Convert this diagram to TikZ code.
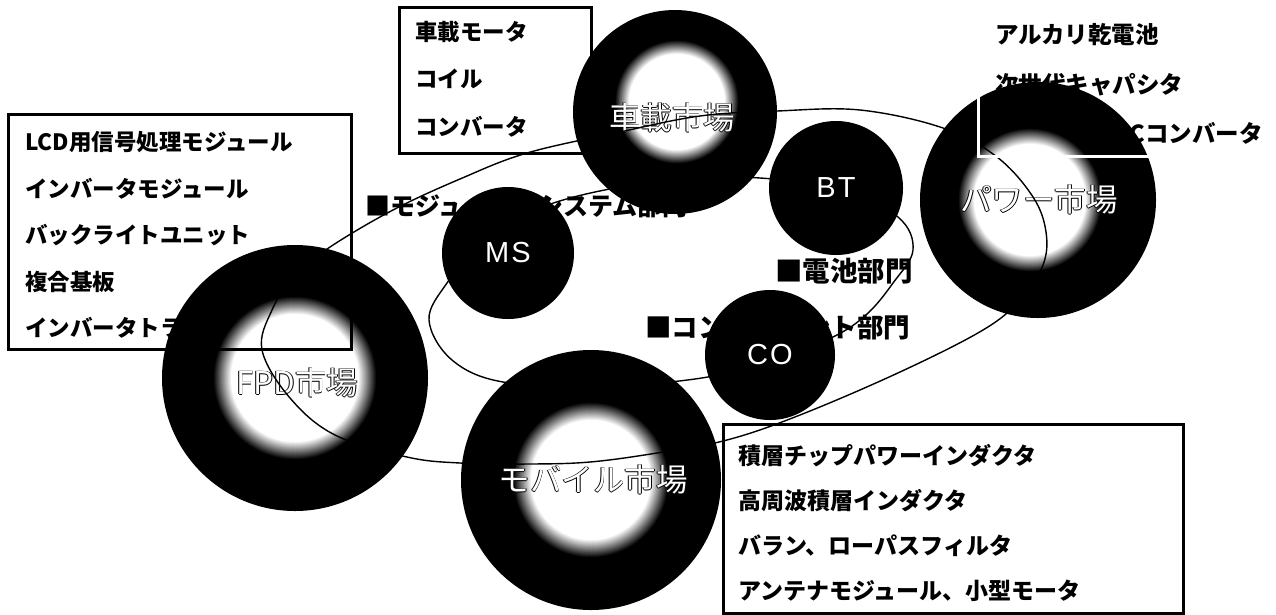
\documentclass[tikz,border=0pt]{standalone}
\usepackage{fontspec}
\setmainfont{Noto Sans CJK JP}
\newfontfamily\latf[LetterSpace=7]{Liberation Sans}
\usetikzlibrary{calc}
\newcommand\mktoutline[1]{\leavevmode\rlap{\kern0.9pt\textcolor{black}{#1}}\rlap{\kern-0.9pt\textcolor{black}{#1}}\rlap{\raisebox{0.9pt}{\textcolor{black}{#1}}}\rlap{\raisebox{-0.9pt}{\textcolor{black}{#1}}}\textcolor{white}{#1}}
\newcommand\ringfuzz[3]{%
  \foreach \k in {0,...,24}{%
    \pgfmathsetmacro\ringrad{#3-(#3-#2)*\k/24}%
    \pgfmathsetmacro\ringcol{100-100*\k/24}%
    \fill[black!\ringcol!white] #1 circle[radius=\ringrad];}}
\begin{document}
\begin{tikzpicture}[x=1pt,y=-1pt,
 ring/.style={circle, inner sep=0pt, fill=black},
 disc/.style={circle, inner sep=0pt, fill=black, text=white, font=\latf\fontsize{29pt}{29pt}\selectfont},
 lab/.style={anchor=west, inner sep=0pt, font=\bfseries\fontsize{26pt}{26pt}\selectfont},
 boxtxt/.style={anchor=west, inner sep=0pt, align=left, font=\bfseries\fontsize{22.5pt}{46.5pt}\selectfont},
 boxframe/.style={draw=black, line width=2.5pt, inner sep=0pt, anchor=north west},
 mkt/.style={inner sep=0pt, font=\fontsize{31.5pt}{31.5pt}\selectfont},
 div/.style={line width=1.4pt}
]
\useasboundingbox (0,0) rectangle (1276,614);
\fill[white] (0,0) rectangle (1276,614);

% division labels
\node[lab, font=\bfseries\fontsize{25pt}{25pt}\selectfont] (lms) at (365,206) {■モジュール・システム部門};
\node[lab, font=\bfseries\fontsize{27.5pt}{27.5pt}\selectfont] (lbt) at (775,271) {■電池部門};
\node[lab, font=\bfseries\fontsize{26.5pt}{26.5pt}\selectfont] (lco) at (645,327) {■コンポーネント部門};

% box texts
\node[boxtxt, font=\bfseries\fontsize{22.5pt}{47.5pt}\selectfont] (jktxt) at (415,79) {車載モータ\\コイル\\コンバータ};
\node[boxtxt] (fpdtxt) at (25,235) {LCD用信号処理モジュール\\インバータモジュール\\バックライトユニット\\複合基板\\インバータトランス};
\node[boxtxt, font=\bfseries\fontsize{23pt}{45pt}\selectfont] (mbtxt) at (738,522.5) {積層チップパワーインダクタ\\高周波積層インダクタ\\バラン、ローパスフィルタ\\アンテナモジュール、小型モータ};
\node[boxtxt, font=\bfseries\fontsize{23.5pt}{23.5pt}\selectfont] (pw1) at (995,35) {アルカリ乾電池};
\node[boxtxt, font=\bfseries\fontsize{23.5pt}{23.5pt}\selectfont] (pw2) at (995,85) {次世代キャパシタ};
\node[boxtxt, anchor=east, font=\bfseries\fontsize{23.5pt}{23.5pt}\selectfont] (pw3) at (1263,133) {DC-DCコンバータ};

% market rings
\node[ring, minimum size=204pt] (jk) at (675,112) {};
\node[ring, minimum size=236pt] (pw) at (1038,200) {};
\node[ring, minimum size=266pt] (fpd) at (295,378) {};
\node[ring, minimum size=260pt] (mb) at (591,480) {};
\ringfuzz{($(jk)+(2,-10)$)}{48}{62}
\ringfuzz{($(pw)+(-8,0)$)}{56}{72}
\ringfuzz{(fpd)}{64}{82}
\ringfuzz{(mb)}{60}{78}

% market labels
\node[mkt] (jklab) at (672,118) {\mktoutline{車載市場}};
\node[mkt] (fpdlab) at (297,383) {\mktoutline{FPD市場}};
\node[mkt] (pwlab) at (1039,200) {\mktoutline{パワー市場}};
\node[mkt] (mblab) at (593,480) {\mktoutline{モバイル市場}};

% division ellipses
\draw[div] plot[smooth cycle, tension=0.6] coordinates {(262,350) (272,310) (295,275) (330,247) (393,210) (460,179) (527,153) (620,132) (700,116) (777,111) (860,110) (943,128) (997,157) (1033,197) (1046,232) (1043,265) (1020,300) (983,330) (900,372) (800,415) (727,440) (657,453) (590,462) (530,464) (460,463) (407,457) (335,435) (290,398)};
\draw[div] plot[smooth cycle, tension=0.6] coordinates {(429,320) (447,283) (480,245) (540,208) (620,187) (700,178) (760,178) (840,188) (898,217) (913,250) (893,283) (867,314) (833,337) (770,362) (695,379) (600,386) (503,382) (452,360)};

% division discs
\node[disc, minimum size=132pt] (ms) at (508,253) {MS};
\node[disc, minimum size=134pt] (bt) at (836,188) {BT};
\node[disc, minimum size=130pt] (co) at (770,355) {CO};

% box frames
\node[boxframe, minimum width=192pt, minimum height=146pt] (jkbox) at (398,6) {};
\node[boxframe, minimum width=343pt, minimum height=235pt] (fpdbox) at (7,113) {};
\node[boxframe, minimum width=460pt, minimum height=189pt] (mbbox) at (722,423) {};
\node[boxframe, draw=white, minimum width=295pt, minimum height=141pt] (pwbox) at (977,14) {};
\end{tikzpicture}
\end{document}
